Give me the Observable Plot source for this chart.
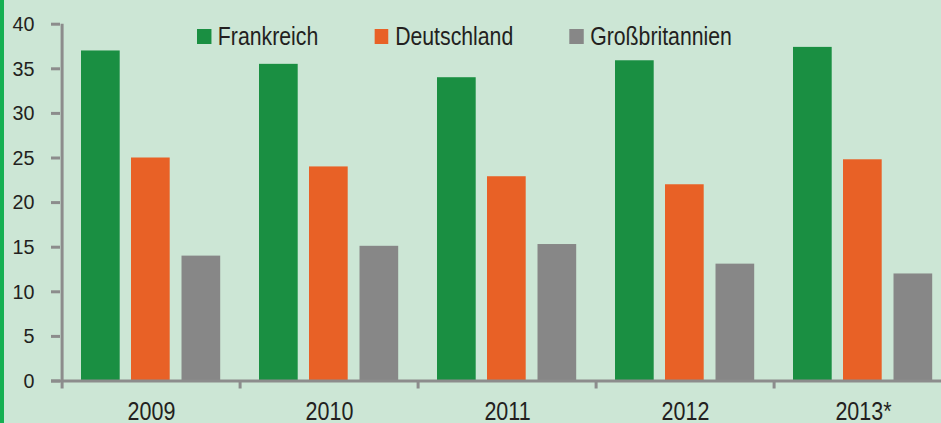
<!DOCTYPE html>
<html><head><meta charset="utf-8">
<script src="https://cdn.jsdelivr.net/npm/d3@7"></script>
<script src="https://cdn.jsdelivr.net/npm/@observablehq/plot@0.6"></script>
<style>
html,body{margin:0;padding:0;overflow:hidden}
body{width:941px;height:423px;background:#cce6d5;position:relative;font-family:"Liberation Sans",Arial,sans-serif;color:#231f20}
#chart{position:absolute;left:0;top:0}
#stripe{position:absolute;left:0;top:0;width:4px;height:423px;background:#15b052}
#legend{position:absolute;left:197px;top:22px;display:flex;gap:66px;font-size:25px;line-height:28px;transform:scaleX(0.85);transform-origin:0 0;white-space:nowrap}
.item{display:flex;align-items:center;gap:8px}
.sw{width:16.5px;height:15px;flex:none}
</style></head><body>
<div id="chart"></div><div id="stripe"></div><div id="legend"></div>
<script>
const years = ["2009", "2010", "2011", "2012", "2013*"];
const series = ["Frankreich", "Deutschland", "Großbritannien"];
const frankreich = [37.0, 35.5, 34.0, 35.9, 37.4];
const deutschland = [25.0, 24.0, 22.9, 22.0, 24.8];
const grossbritannien = [14.0, 15.1, 15.3, 13.1, 12.0];
const seriesColors = ["#1a8f42", "#e86126", "#878787"];
const yTicks = [0, 5, 10, 15, 20, 25, 30, 35, 40];

const values = [frankreich, deutschland, grossbritannien];
const rows = series.flatMap((s, i) => years.map((y, j) => ({year: y, series: s, value: values[i][j]})));

const W = 941, H = 423;
const x0 = 60, x1 = 954;
const bw = (x1 - x0) / years.length;
const barOffsets = [19, 69, 119.5];
const barW = 39.5;
const axisColor = "#8c8c8c";
const textColor = "#231f20";
const font = '"Liberation Sans",Arial,sans-serif';

const barMarks = series.map((s, i) => Plot.barY(rows.filter(d => d.series === s), {
  x: "year", y: "value", fill: seriesColors[i],
  insetLeft: barOffsets[i], insetRight: bw - barOffsets[i] - barW
}));

const chart = Plot.plot({
  width: W, height: H,
  marginLeft: x0, marginRight: 0, marginTop: 23.7, marginBottom: 42.5,
  style: {background: "transparent", color: textColor, fontFamily: font, overflow: "hidden"},
  x: {domain: years, range: [x0, x1], padding: 0, axis: null, label: null},
  y: {domain: [0, 40], axis: null, label: null},
  marks: [
    ...barMarks,
    Plot.ruleY([0], {stroke: axisColor, strokeWidth: 3, insetLeft: -9}),
    Plot.ruleX([years[0]], {x: d => d, dx: -bw / 2, y1: 0, y2: 40, stroke: axisColor, strokeWidth: 3}),
    Plot.axisY(yTicks, {label: null, tickSize: 9, tickPadding: 17, fontSize: 21, stroke: axisColor, strokeWidth: 3, fill: textColor}),
    Plot.axisX(years, {label: null, tickSize: 8, dx: -bw / 2, tickFormat: () => "", stroke: axisColor, strokeWidth: 3}),
    Plot.axisX(years, {label: null, tickSize: 0, tickPadding: 21.5, fontSize: 25, fill: textColor})
  ]
});
// condense the glyphs horizontally, like the narrow face of the original
chart.querySelectorAll("text").forEach(t => {
  const k = t.getAttribute("font-size") === "25" || t.closest("[font-size='25']") ? 0.86 : 0.94;
  const tr = t.getAttribute("transform") || "";
  t.setAttribute("transform", tr + ` scale(${k},1)`);
});
document.getElementById("chart").appendChild(chart);

const legend = document.getElementById("legend");
series.forEach((s, i) => {
  const item = document.createElement("div");
  item.className = "item";
  const sw = document.createElement("div");
  sw.className = "sw";
  sw.style.background = seriesColors[i];
  const t = document.createElement("span");
  t.textContent = s;
  item.appendChild(sw); item.appendChild(t);
  legend.appendChild(item);
});
</script>
</body></html>
